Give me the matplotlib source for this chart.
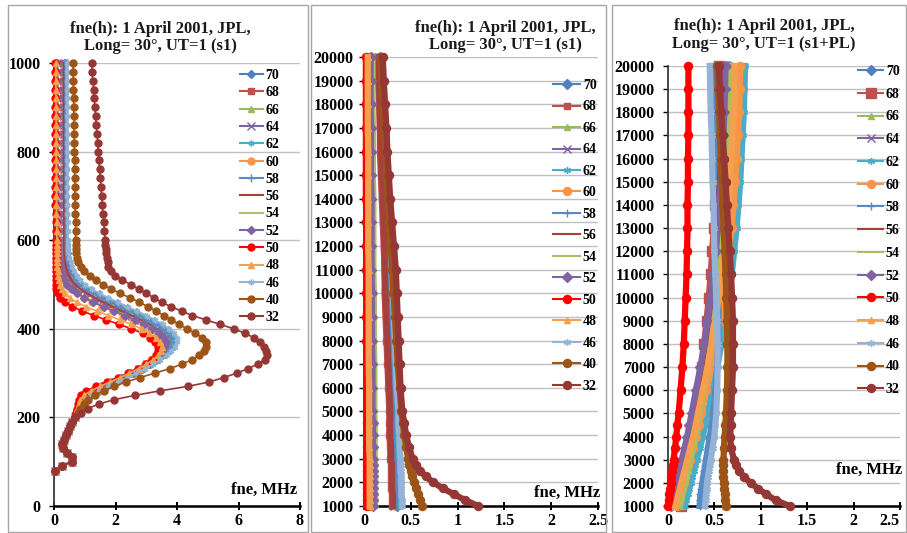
import matplotlib
matplotlib.use("Agg")
import matplotlib.pyplot as plt
from matplotlib.patches import Rectangle

W, H = 907, 533
SERIF = ["Liberation Serif", "DejaVu Serif"]
plt.rcParams["font.family"] = SERIF
plt.rcParams["font.weight"] = "bold"

# ---------------------------------------------------------------- series
LABELS = ["70", "68", "66", "64", "62", "60", "58", "56", "54", "52", "50", "48", "46", "40", "32"]
COLORS = ["#4F81BD", "#C0504D", "#9BBB59", "#8064A2", "#4BACC6", "#F79646", "#5A8AC6",
          "#A5403D", "#A8C05E", "#8064A2", "#FF0000", "#F5A04E", "#95B3D7", "#9C5517", "#953735"]
MARKERS = ["D", "s", "^", "x", (6, 2, 0), "o", "+", None, None, "D", "o", "^", (6, 2, 0), "o", "o"]

# ---------------------------------------------------------------- panel 1: 80..1000 km
H1 = list(range(80, 201, 10)) + list(range(210, 601, 10)) + list(range(620, 1001, 20))
E_LAYER = [0.03, 0.25, 0.58, 0.60, 0.42, 0.28, 0.26, 0.32, 0.38, 0.45, 0.53, 0.60, 0.68]

P1_70 = [0.76, 0.82, 0.90, 0.98, 1.15, 1.40, 1.68, 1.98, 2.28, 2.56,
         2.83, 3.08, 3.30, 3.50, 3.65, 3.75, 3.80, 3.77, 3.67, 3.50,
         3.28, 3.02, 2.74, 2.44, 2.13, 1.82, 1.52, 1.25, 1.02, 0.84,
         0.72, 0.62, 0.55, 0.50, 0.46, 0.43, 0.41, 0.39, 0.38, 0.37,
         0.37, 0.37, 0.37, 0.36, 0.36, 0.36, 0.36, 0.36, 0.36, 0.36,
         0.36, 0.35, 0.35, 0.35, 0.35, 0.35, 0.35, 0.35, 0.35, 0.35]
P1_68 = [0.74, 0.80, 0.87, 0.94, 1.10, 1.33, 1.60, 1.90, 2.20, 2.48,
         2.75, 2.98, 3.20, 3.38, 3.52, 3.62, 3.65, 3.60, 3.48, 3.30,
         3.07, 2.80, 2.51, 2.21, 1.90, 1.60, 1.32, 1.07, 0.86, 0.69,
         0.57, 0.49, 0.43, 0.39, 0.36, 0.34, 0.33, 0.32, 0.32, 0.32,
         0.32, 0.32, 0.32, 0.31, 0.31, 0.31, 0.31, 0.31, 0.31, 0.31,
         0.31, 0.30, 0.30, 0.30, 0.30, 0.30, 0.30, 0.30, 0.30, 0.30]
P1_66 = [0.76, 0.83, 0.91, 0.99, 1.17, 1.42, 1.70, 2.00, 2.30, 2.59,
         2.86, 3.12, 3.35, 3.55, 3.71, 3.81, 3.85, 3.82, 3.71, 3.54,
         3.31, 3.05, 2.76, 2.46, 2.15, 1.84, 1.54, 1.26, 1.03, 0.85,
         0.72, 0.62, 0.55, 0.49, 0.45, 0.42, 0.40, 0.38, 0.37, 0.36,
         0.36, 0.36, 0.35, 0.35, 0.35, 0.35, 0.35, 0.34, 0.34, 0.34,
         0.34, 0.34, 0.34, 0.34, 0.33, 0.33, 0.33, 0.33, 0.33, 0.33]
P1_64 = [0.75, 0.81, 0.88, 0.95, 1.12, 1.35, 1.62, 1.92, 2.22, 2.50,
         2.77, 3.01, 3.23, 3.42, 3.57, 3.66, 3.70, 3.65, 3.53, 3.35,
         3.11, 2.84, 2.54, 2.23, 1.92, 1.62, 1.34, 1.09, 0.88, 0.71,
         0.58, 0.50, 0.44, 0.40, 0.37, 0.35, 0.34, 0.33, 0.33, 0.33,
         0.33, 0.33, 0.33, 0.33, 0.33, 0.32, 0.32, 0.32, 0.32, 0.32,
         0.32, 0.32, 0.32, 0.32, 0.32, 0.32, 0.32, 0.32, 0.32, 0.32]
P1_62 = [0.78, 0.85, 0.93, 1.02, 1.20, 1.46, 1.75, 2.05, 2.36, 2.65,
         2.93, 3.19, 3.42, 3.62, 3.78, 3.89, 3.95, 3.94, 3.85, 3.70,
         3.49, 3.24, 2.97, 2.67, 2.36, 2.05, 1.74, 1.45, 1.20, 1.00,
         0.84, 0.72, 0.63, 0.56, 0.51, 0.47, 0.45, 0.43, 0.42, 0.42,
         0.42, 0.41, 0.41, 0.41, 0.40, 0.40, 0.40, 0.40, 0.40, 0.39,
         0.39, 0.39, 0.39, 0.39, 0.38, 0.38, 0.38, 0.38, 0.38, 0.38]
P1_60 = [0.73, 0.78, 0.84, 0.90, 1.04, 1.26, 1.55, 1.86, 2.17, 2.45,
         2.72, 2.96, 3.17, 3.34, 3.46, 3.53, 3.55, 3.49, 3.35, 3.14,
         2.88, 2.58, 2.25, 1.91, 1.57, 1.25, 0.97, 0.74, 0.56, 0.42,
         0.31, 0.24, 0.19, 0.16, 0.14, 0.13, 0.13, 0.12, 0.12, 0.12,
         0.12, 0.12, 0.11, 0.11, 0.11, 0.11, 0.10, 0.10, 0.10, 0.10,
         0.09, 0.09, 0.09, 0.09, 0.09, 0.08, 0.08, 0.08, 0.08, 0.08]
P1_58 = [0.77, 0.83, 0.90, 0.98, 1.16, 1.41, 1.69, 1.99, 2.29, 2.57,
         2.84, 3.10, 3.32, 3.52, 3.67, 3.77, 3.82, 3.79, 3.69, 3.52,
         3.30, 3.04, 2.75, 2.45, 2.14, 1.83, 1.53, 1.26, 1.03, 0.85,
         0.72, 0.62, 0.55, 0.49, 0.45, 0.42, 0.40, 0.38, 0.37, 0.36,
         0.36, 0.36, 0.36, 0.35, 0.35, 0.35, 0.35, 0.35, 0.34, 0.34,
         0.34, 0.34, 0.34, 0.34, 0.33, 0.33, 0.33, 0.33, 0.33, 0.33]
P1_56 = [0.74, 0.80, 0.87, 0.94, 1.10, 1.33, 1.60, 1.90, 2.20, 2.48,
         2.75, 2.98, 3.20, 3.38, 3.52, 3.64, 3.68, 3.63, 3.50, 3.31,
         3.07, 2.80, 2.51, 2.21, 1.90, 1.60, 1.32, 1.07, 0.86, 0.69,
         0.57, 0.49, 0.43, 0.39, 0.36, 0.34, 0.33, 0.32, 0.32, 0.32,
         0.32, 0.32, 0.32, 0.32, 0.31, 0.31, 0.31, 0.31, 0.31, 0.31,
         0.31, 0.31, 0.31, 0.31, 0.31, 0.31, 0.31, 0.31, 0.31, 0.31]
P1_54 = [0.74, 0.79, 0.85, 0.92, 1.07, 1.30, 1.59, 1.90, 2.21, 2.50,
         2.78, 3.03, 3.25, 3.43, 3.56, 3.62, 3.65, 3.60, 3.46, 3.25,
         2.98, 2.68, 2.35, 2.00, 1.65, 1.31, 1.02, 0.78, 0.59, 0.45,
         0.34, 0.27, 0.22, 0.19, 0.17, 0.16, 0.15, 0.15, 0.15, 0.15,
         0.15, 0.15, 0.14, 0.14, 0.14, 0.14, 0.14, 0.13, 0.13, 0.13,
         0.13, 0.13, 0.13, 0.13, 0.12, 0.12, 0.12, 0.12, 0.12, 0.12]
P1_52 = [0.73, 0.78, 0.84, 0.91, 1.05, 1.28, 1.57, 1.88, 2.19, 2.47,
         2.74, 2.99, 3.20, 3.38, 3.51, 3.57, 3.60, 3.55, 3.41, 3.20,
         2.93, 2.63, 2.30, 1.95, 1.61, 1.28, 0.99, 0.76, 0.57, 0.43,
         0.33, 0.26, 0.21, 0.18, 0.16, 0.15, 0.14, 0.13, 0.13, 0.13,
         0.13, 0.13, 0.12, 0.12, 0.12, 0.12, 0.12, 0.11, 0.11, 0.11,
         0.11, 0.11, 0.11, 0.10, 0.10, 0.10, 0.10, 0.10, 0.10, 0.10]
P1_50 = [0.70, 0.74, 0.78, 0.82, 0.88, 1.05, 1.35, 1.72, 2.08, 2.42,
         2.72, 2.98, 3.18, 3.32, 3.38, 3.38, 3.30, 3.12, 2.88, 2.52,
         2.12, 1.70, 1.30, 0.92, 0.60, 0.36, 0.21, 0.13, 0.08, 0.06,
         0.06, 0.05, 0.05, 0.05, 0.05, 0.05, 0.05, 0.05, 0.05, 0.05,
         0.05, 0.05, 0.05, 0.04, 0.04, 0.04, 0.04, 0.04, 0.04, 0.04,
         0.04, 0.04, 0.03, 0.03, 0.03, 0.03, 0.03, 0.03, 0.03, 0.03]
P1_48 = [0.72, 0.76, 0.80, 0.86, 0.98, 1.20, 1.50, 1.82, 2.15, 2.45,
         2.75, 3.00, 3.22, 3.38, 3.48, 3.50, 3.45, 3.32, 3.10, 2.85,
         2.52, 2.15, 1.77, 1.40, 1.04, 0.74, 0.51, 0.35, 0.25, 0.19,
         0.15, 0.13, 0.12, 0.11, 0.10, 0.10, 0.09, 0.09, 0.09, 0.09,
         0.09, 0.09, 0.08, 0.08, 0.08, 0.08, 0.08, 0.08, 0.07, 0.07,
         0.07, 0.07, 0.07, 0.07, 0.07, 0.06, 0.06, 0.06, 0.06, 0.06]
P1_46 = [0.79, 0.86, 0.94, 1.03, 1.21, 1.47, 1.76, 2.07, 2.38, 2.68,
         2.96, 3.22, 3.46, 3.66, 3.82, 3.93, 4.00, 3.99, 3.90, 3.75,
         3.54, 3.29, 3.01, 2.71, 2.40, 2.08, 1.77, 1.48, 1.22, 1.02,
         0.86, 0.75, 0.66, 0.59, 0.54, 0.50, 0.47, 0.45, 0.44, 0.44,
         0.44, 0.44, 0.43, 0.43, 0.43, 0.43, 0.43, 0.42, 0.42, 0.42,
         0.42, 0.42, 0.42, 0.42, 0.41, 0.41, 0.41, 0.41, 0.41, 0.41]
P1_40 = [0.78, 0.86, 0.96, 1.12, 1.32, 1.62, 1.95, 2.35, 2.80, 3.28,
         3.76, 4.15, 4.48, 4.72, 4.88, 4.95, 4.93, 4.82, 4.60, 4.32,
         4.06, 3.82, 3.57, 3.32, 3.05, 2.78, 2.48, 2.14, 1.86, 1.60,
         1.37, 1.16, 0.99, 0.87, 0.79, 0.75, 0.73, 0.72, 0.71, 0.70,
         0.70, 0.70, 0.69, 0.69, 0.68, 0.68, 0.67, 0.67, 0.67, 0.66,
         0.66, 0.65, 0.65, 0.65, 0.64, 0.64, 0.63, 0.63, 0.62, 0.62]
P1_32 = [0.88, 1.10, 1.45, 1.95, 2.65, 3.45, 4.35, 5.05, 5.52, 5.95,
         6.30, 6.62, 6.85, 6.92, 6.90, 6.83, 6.70, 6.50, 6.20, 5.85,
         5.40, 4.95, 4.50, 4.15, 3.80, 3.50, 3.25, 3.00, 2.75, 2.50,
         2.22, 1.98, 1.84, 1.77, 1.74, 1.72, 1.70, 1.68, 1.67, 1.66,
         1.64, 1.62, 1.59, 1.57, 1.55, 1.53, 1.51, 1.48, 1.46, 1.44,
         1.42, 1.40, 1.37, 1.35, 1.33, 1.31, 1.29, 1.26, 1.24, 1.22]

# ---------------------------------------------------------------- panels 2 and 3: 1000..20000 km
H2 = [1000, 1250, 1500, 1750, 2000, 2250, 2500, 2750, 3000, 3500, 4000, 4500, 5000,
      6000, 7000, 8000, 9000, 10000, 11000, 12000, 13000, 14000, 15000, 16000, 17000,
      18000, 19000, 20000]

# (s1)
P2_70 = [0.35, 0.35, 0.35, 0.34, 0.34, 0.34, 0.34, 0.33, 0.33, 0.33, 0.32, 0.32, 0.31, 0.30,
         0.29, 0.28, 0.27, 0.26, 0.26, 0.25, 0.24, 0.23, 0.22, 0.21, 0.20, 0.19, 0.18, 0.17]
P2_68 = [0.30, 0.30, 0.30, 0.29, 0.29, 0.29, 0.29, 0.29, 0.28, 0.28, 0.27, 0.27, 0.27, 0.26,
         0.25, 0.24, 0.23, 0.22, 0.22, 0.21, 0.20, 0.19, 0.18, 0.17, 0.17, 0.16, 0.15, 0.14]
P2_66 = [0.33, 0.33, 0.33, 0.32, 0.32, 0.32, 0.32, 0.31, 0.31, 0.31, 0.30, 0.30, 0.29, 0.29,
         0.28, 0.27, 0.26, 0.25, 0.24, 0.23, 0.22, 0.21, 0.20, 0.20, 0.19, 0.18, 0.17, 0.16]
P2_64 = [0.32, 0.32, 0.32, 0.31, 0.31, 0.31, 0.31, 0.30, 0.30, 0.30, 0.29, 0.29, 0.28, 0.28,
         0.27, 0.26, 0.25, 0.24, 0.23, 0.22, 0.21, 0.20, 0.19, 0.19, 0.18, 0.17, 0.16, 0.15]
P2_62 = [0.38, 0.38, 0.38, 0.37, 0.37, 0.37, 0.36, 0.36, 0.36, 0.35, 0.35, 0.34, 0.34, 0.33,
         0.32, 0.31, 0.30, 0.29, 0.28, 0.27, 0.26, 0.25, 0.24, 0.23, 0.22, 0.21, 0.20, 0.19]
P2_60 = [0.08, 0.08, 0.08, 0.08, 0.08, 0.08, 0.08, 0.08, 0.075, 0.075, 0.075, 0.075, 0.07, 0.07,
         0.07, 0.065, 0.065, 0.065, 0.06, 0.06, 0.06, 0.06, 0.055, 0.055, 0.055, 0.05, 0.05, 0.05]
P2_58 = [0.33, 0.33, 0.33, 0.33, 0.32, 0.32, 0.32, 0.32, 0.31, 0.31, 0.30, 0.30, 0.30, 0.29,
         0.28, 0.27, 0.26, 0.25, 0.24, 0.23, 0.22, 0.21, 0.20, 0.20, 0.19, 0.18, 0.17, 0.16]
P2_56 = [0.31, 0.31, 0.31, 0.30, 0.30, 0.30, 0.30, 0.30, 0.29, 0.29, 0.28, 0.28, 0.28, 0.27,
         0.26, 0.25, 0.24, 0.23, 0.22, 0.22, 0.21, 0.20, 0.19, 0.18, 0.17, 0.17, 0.16, 0.15]
P2_54 = [0.12, 0.12, 0.12, 0.12, 0.12, 0.12, 0.12, 0.12, 0.115, 0.115, 0.115, 0.115, 0.11, 0.11,
         0.11, 0.105, 0.105, 0.105, 0.10, 0.10, 0.10, 0.10, 0.095, 0.095, 0.095, 0.09, 0.09, 0.09]
P2_52 = [0.10, 0.10, 0.10, 0.10, 0.10, 0.10, 0.10, 0.10, 0.095, 0.095, 0.095, 0.095, 0.09, 0.09,
         0.09, 0.085, 0.085, 0.085, 0.08, 0.08, 0.08, 0.08, 0.075, 0.075, 0.075, 0.07, 0.07, 0.07]
P2_50 = [0.03, 0.03, 0.03, 0.03, 0.03, 0.03, 0.03, 0.03, 0.03, 0.03, 0.03, 0.03, 0.03, 0.03,
         0.03, 0.025, 0.025, 0.025, 0.025, 0.025, 0.025, 0.02, 0.02, 0.02, 0.02, 0.02, 0.02, 0.02]
P2_48 = [0.06, 0.06, 0.06, 0.06, 0.06, 0.06, 0.06, 0.06, 0.06, 0.055, 0.055, 0.055, 0.055, 0.055,
         0.05, 0.05, 0.05, 0.05, 0.05, 0.045, 0.045, 0.045, 0.045, 0.045, 0.04, 0.04, 0.04, 0.04]
P2_46 = [0.41, 0.41, 0.40, 0.40, 0.40, 0.40, 0.39, 0.39, 0.39, 0.38, 0.38, 0.37, 0.37, 0.35,
         0.34, 0.33, 0.32, 0.31, 0.30, 0.29, 0.28, 0.27, 0.25, 0.24, 0.23, 0.22, 0.21, 0.20]
P2_40 = [0.62, 0.60, 0.58, 0.555, 0.535, 0.515, 0.50, 0.485, 0.47, 0.45, 0.43, 0.415, 0.40, 0.38,
         0.36, 0.345, 0.33, 0.315, 0.30, 0.285, 0.27, 0.255, 0.24, 0.23, 0.215, 0.20, 0.19, 0.18]
P2_32 = [1.22, 1.08, 0.96, 0.84, 0.74, 0.66, 0.60, 0.56, 0.52, 0.48, 0.45, 0.43, 0.41, 0.39,
         0.38, 0.37, 0.36, 0.35, 0.34, 0.32, 0.30, 0.28, 0.265, 0.25, 0.24, 0.225, 0.21, 0.20]

# (s1+PL)
P3_70 = [0.12, 0.134, 0.147, 0.161, 0.174, 0.188, 0.201, 0.215, 0.228, 0.255, 0.282, 0.304, 0.325, 0.368,
         0.412, 0.449, 0.482, 0.514, 0.541, 0.563, 0.584, 0.601, 0.617, 0.628, 0.638, 0.649, 0.655, 0.66]
P3_68 = [0.14, 0.15, 0.161, 0.171, 0.181, 0.191, 0.202, 0.212, 0.222, 0.243, 0.263, 0.279, 0.296, 0.329,
         0.361, 0.39, 0.415, 0.439, 0.46, 0.476, 0.493, 0.505, 0.517, 0.525, 0.534, 0.542, 0.546, 0.55]
P3_66 = [0.15, 0.164, 0.178, 0.191, 0.205, 0.219, 0.233, 0.246, 0.26, 0.288, 0.315, 0.337, 0.359, 0.403,
         0.447, 0.486, 0.519, 0.552, 0.579, 0.601, 0.623, 0.64, 0.656, 0.667, 0.678, 0.689, 0.695, 0.70]
P3_64 = [0.04, 0.055, 0.071, 0.086, 0.101, 0.116, 0.132, 0.147, 0.162, 0.193, 0.223, 0.247, 0.272, 0.321,
         0.369, 0.412, 0.449, 0.485, 0.516, 0.54, 0.565, 0.583, 0.601, 0.613, 0.626, 0.638, 0.644, 0.65]
P3_62 = [0.18, 0.196, 0.213, 0.229, 0.245, 0.261, 0.278, 0.294, 0.31, 0.343, 0.375, 0.401, 0.427, 0.479,
         0.531, 0.577, 0.616, 0.655, 0.687, 0.713, 0.739, 0.759, 0.778, 0.791, 0.804, 0.817, 0.824, 0.83]
P3_60 = [0.10, 0.117, 0.134, 0.151, 0.168, 0.185, 0.202, 0.219, 0.236, 0.27, 0.304, 0.331, 0.358, 0.413,
         0.467, 0.515, 0.556, 0.596, 0.63, 0.658, 0.685, 0.705, 0.726, 0.739, 0.753, 0.766, 0.773, 0.78]
P3_58 = [0.34, 0.345, 0.35, 0.36, 0.37, 0.38, 0.39, 0.40, 0.41, 0.43, 0.45, 0.47, 0.49, 0.51,
         0.53, 0.54, 0.545, 0.545, 0.54, 0.535, 0.53, 0.525, 0.52, 0.515, 0.51, 0.505, 0.50, 0.50]
P3_56 = [0.10, 0.113, 0.125, 0.138, 0.15, 0.163, 0.175, 0.188, 0.20, 0.225, 0.25, 0.27, 0.29, 0.33,
         0.37, 0.405, 0.435, 0.465, 0.49, 0.51, 0.53, 0.545, 0.56, 0.57, 0.58, 0.59, 0.595, 0.60]
P3_54 = [0.13, 0.144, 0.158, 0.171, 0.185, 0.199, 0.213, 0.226, 0.24, 0.268, 0.295, 0.317, 0.339, 0.383,
         0.427, 0.466, 0.499, 0.532, 0.559, 0.581, 0.603, 0.62, 0.636, 0.647, 0.658, 0.669, 0.675, 0.68]
P3_52 = [0.03, 0.045, 0.06, 0.074, 0.089, 0.104, 0.119, 0.133, 0.148, 0.178, 0.207, 0.231, 0.254, 0.301,
         0.349, 0.39, 0.425, 0.461, 0.49, 0.514, 0.537, 0.555, 0.573, 0.585, 0.596, 0.608, 0.614, 0.62]
P3_50 = [0.005, 0.01, 0.015, 0.02, 0.03, 0.035, 0.045, 0.05, 0.06, 0.075, 0.09, 0.10, 0.115, 0.135,
         0.155, 0.17, 0.18, 0.19, 0.20, 0.205, 0.21, 0.21, 0.215, 0.215, 0.22, 0.22, 0.22, 0.22]
P3_48 = [0.08, 0.096, 0.112, 0.128, 0.144, 0.16, 0.176, 0.192, 0.208, 0.24, 0.272, 0.298, 0.323, 0.374,
         0.426, 0.47, 0.509, 0.547, 0.579, 0.605, 0.63, 0.65, 0.669, 0.682, 0.694, 0.707, 0.714, 0.72]
P3_46 = [0.40, 0.405, 0.41, 0.415, 0.42, 0.43, 0.44, 0.45, 0.46, 0.48, 0.50, 0.51, 0.52, 0.53,
         0.535, 0.535, 0.53, 0.52, 0.51, 0.50, 0.495, 0.49, 0.48, 0.475, 0.47, 0.46, 0.455, 0.45]
P3_40 = [0.62, 0.615, 0.61, 0.605, 0.60, 0.598, 0.597, 0.597, 0.598, 0.603, 0.61, 0.618, 0.625, 0.635,
         0.64, 0.64, 0.635, 0.628, 0.62, 0.61, 0.60, 0.59, 0.58, 0.57, 0.56, 0.55, 0.54, 0.53]
P3_32 = [1.31, 1.16, 1.06, 0.97, 0.89, 0.82, 0.77, 0.73, 0.71, 0.68, 0.67, 0.675, 0.68, 0.69,
         0.70, 0.70, 0.70, 0.69, 0.68, 0.665, 0.65, 0.635, 0.62, 0.605, 0.59, 0.575, 0.56, 0.55]

PANEL1 = [P1_70, P1_68, P1_66, P1_64, P1_62, P1_60, P1_58, P1_56, P1_54, P1_52, P1_50, P1_48, P1_46, P1_40, P1_32]
PANEL2 = [P2_70, P2_68, P2_66, P2_64, P2_62, P2_60, P2_58, P2_56, P2_54, P2_52, P2_50, P2_48, P2_46, P2_40, P2_32]
PANEL3 = [P3_70, P3_68, P3_66, P3_64, P3_62, P3_60, P3_58, P3_56, P3_54, P3_52, P3_50, P3_48, P3_46, P3_40, P3_32]

TITLE_TOP = "fne(h): 1 April 2001, JPL,"
TITLES = [TITLE_TOP + "\nLong= 30°, UT=1 (s1)",
          TITLE_TOP + "\nLong= 30°, UT=1 (s1)",
          TITLE_TOP + "\nLong= 30°, UT=1 (s1+PL)"]
XLABEL = "fne, MHz"

# ---------------------------------------------------------------- figure
fig = plt.figure(figsize=(W / 100, H / 100), dpi=100)


def fbox(x0, y0, x1, y1):
    """pixel box (top-left origin) -> figure fraction rect"""
    return [x0 / W, 1 - y1 / H, (x1 - x0) / W, (y1 - y0) / H]


# chart-area frames
for x0, x1 in [(8, 308), (311, 606), (612, 906)]:
    fig.patches.append(Rectangle((x0 / W, 1 / H), (x1 - x0) / W, (H - 6) / H,
                                 transform=fig.transFigure, fill=False,
                                 edgecolor="#A6A6A6", lw=1.0))

ax1 = fig.add_axes(fbox(54, 63, 300, 506))
ax2 = fig.add_axes(fbox(364, 57, 598, 506))
ax3 = fig.add_axes(fbox(668, 66, 900, 506))


def style_axes(ax, xlim, xticks, xlabels, ylim, yticks, ypad):
    ax.set_xlim(*xlim)
    ax.set_ylim(*ylim)
    ax.set_xticks(xticks)
    ax.set_xticklabels(xlabels)
    ax.set_yticks(yticks)
    ax.set_yticklabels([str(v) for v in yticks])
    ax.yaxis.grid(True, color="#C0C0C0", lw=1.0)
    ax.xaxis.grid(False)
    ax.set_axisbelow(True)
    for s in ("top", "right"):
        ax.spines[s].set_visible(False)
    ax.spines["left"].set_color("#3A3A3A")
    ax.spines["left"].set_linewidth(1.3)
    ax.spines["bottom"].set_color("black")
    ax.spines["bottom"].set_linewidth(1.8)
    ax.tick_params(axis="x", direction="inout", length=6, width=1.4, pad=2,
                   labelsize=11.5, colors="black")
    ax.tick_params(axis="y", direction="out", length=3.5, width=1.0, pad=ypad,
                   labelsize=11.5, colors="black")
    for t in ax.get_xticklabels() + ax.get_yticklabels():
        t.set_fontweight("bold")


style_axes(ax1, (0, 8), [0, 2, 4, 6, 8], ["0", "2", "4", "6", "8"],
           (0, 1000), list(range(0, 1001, 200)), 6)
style_axes(ax2, (0, 2.5), [0, 0.5, 1, 1.5, 2, 2.5], ["0", "0.5", "1", "1.5", "2", "2.5"],
           (1000, 20000), list(range(1000, 20001, 1000)), 4)
style_axes(ax3, (0, 2.5), [0, 0.5, 1, 1.5, 2, 2.5], ["0", "0.5", "1", "1.5", "2", "2.5"],
           (1000, 20000), list(range(1000, 20001, 1000)), 6)
# the last tick label of the right panel sits flush with the figure edge
ax3.get_xticklabels()[-1].set_horizontalalignment("right")


def draw(ax, heights, series, lw, ms, big_square=False):
    handles = []
    for i, vals in enumerate(series):
        m = MARKERS[i]
        size = ms
        if m in ("x", "+"):
            size = ms + 1
        if m == "o":
            size = ms + 0.8
        if big_square and LABELS[i] == "68":
            size = ms + 2.5
        line, = ax.plot(vals, heights, color=COLORS[i], lw=lw, marker=m,
                        markersize=size, markeredgewidth=1.0,
                        markerfacecolor=COLORS[i], markeredgecolor=COLORS[i],
                        clip_on=False, zorder=3 + i * 0.01)
        handles.append(line)
    return handles


h1 = draw(ax1, H1, [E_LAYER + s for s in PANEL1], lw=1.2, ms=4.2)
h2 = draw(ax2, H2, PANEL2, lw=4.5, ms=5.0)
h3 = draw(ax3, H2, PANEL3, lw=4.5, ms=5.0, big_square=True)

LEG_FONT = dict(family=SERIF, weight="bold", size=10)


def add_legend(ax, handles, left_px, top_px, spacing, hlen):
    leg = ax.legend(handles, LABELS, loc="upper left",
                    bbox_to_anchor=(left_px / W, 1 - top_px / H),
                    bbox_transform=fig.transFigure, frameon=False, borderpad=0,
                    borderaxespad=0, handlelength=hlen, handletextpad=0.2,
                    labelspacing=spacing, prop=LEG_FONT, numpoints=1)
    for ln in leg.get_lines():
        ln.set_linewidth(1.5)
    return leg


add_legend(ax1, h1, 240, 69, 0.31, 1.65)
add_legend(ax2, h2, 553, 79, 0.61, 1.95)
add_legend(ax3, h3, 858, 65, 0.70, 1.8)

# titles
for (cx, cy), title in zip([(160, 37.5), (505, 36.5), (764, 35)], TITLES):
    fig.text(cx / W, 1 - cy / H, title, ha="center", va="center", fontsize=12,
             fontweight="bold", linespacing=1.1, color="#1A1A1A")

# axis captions
ax1.text(0.988, 0.036, XLABEL, transform=ax1.transAxes, ha="right", va="center",
         fontsize=12, fontweight="bold")
ax2.text(1.008, 0.029, XLABEL, transform=ax2.transAxes, ha="right", va="center",
         fontsize=12, fontweight="bold")
ax3.text(1.008, 0.082, XLABEL, transform=ax3.transAxes, ha="right", va="center",
         fontsize=12, fontweight="bold")

fig.savefig("out.png", dpi=100)
